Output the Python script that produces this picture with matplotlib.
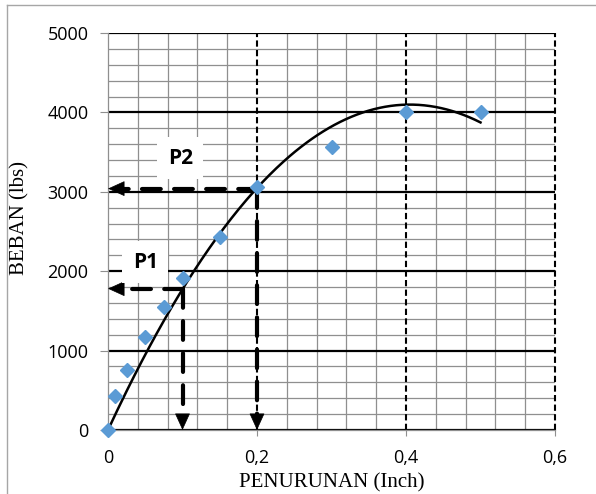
import numpy as np
import matplotlib
matplotlib.use("Agg")
import matplotlib.pyplot as plt
from matplotlib.ticker import MultipleLocator, FixedLocator, FixedFormatter
from matplotlib.lines import Line2D


# measured settlement (inch) and load (lbs)
penurunan = [0, 0.01, 0.025, 0.05, 0.075, 0.1, 0.15, 0.2, 0.3, 0.4, 0.5]
beban = [0, 430, 750, 1170, 1550, 1910, 2430, 3060, 3570, 4010, 4010]

x_ticks = [0, 0.2, 0.4, 0.6]
x_tick_labels = ["0", "0,2", "0,4", "0,6"]
y_ticks = [0, 1000, 2000, 3000, 4000, 5000]

# points for P1 and P2
p_labels = ["P1", "P2"]
p_x = [0.1, 0.2]
p_y = [1780, 3040]
label_x = [0.05, 0.097]
label_y = [2115, 3425]

MARKER_COLOR = "#5B9BD5"
GRID_GRAY = "#8f8f8f"


def dashed_arrow(ax, start, end, head_dx, head_dy):
    """Thick dashed line with a filled head at the end point."""
    ax.plot([start[0], end[0] + head_dx], [start[1], end[1] + head_dy],
            color="black", lw=3, dashes=(4.5, 3.2),
            dash_capstyle="round", zorder=5)
    ax.annotate("", xy=end, xytext=(end[0] + head_dx, end[1] + head_dy),
                arrowprops=dict(arrowstyle="-|>,head_length=1.1,head_width=0.5",
                                color="black", lw=0.5, shrinkA=0, shrinkB=0,
                                mutation_scale=10),
                zorder=6)


def main():
    fig = plt.figure(figsize=(5.96, 4.94), dpi=100)
    ax = fig.add_axes([108 / 596, 1 - 430 / 494, 447 / 596, 397 / 494])

    # outer frame (left and top edges visible)
    fig.add_artist(Line2D([7 / 596, 7 / 596], [0, 1 - 5 / 494],
                          color="#a6a6a6", lw=1))
    fig.add_artist(Line2D([7 / 596, 1], [1 - 5 / 494, 1 - 5 / 494],
                          color="#a6a6a6", lw=1))

    ax.set_xlim(0, 0.6)
    ax.set_ylim(0, 5000)

    ax.xaxis.set_major_locator(FixedLocator(x_ticks))
    ax.xaxis.set_major_formatter(FixedFormatter(x_tick_labels))
    ax.yaxis.set_major_locator(FixedLocator(y_ticks))
    ax.xaxis.set_minor_locator(MultipleLocator(0.04))
    ax.yaxis.set_minor_locator(MultipleLocator(200))

    ax.grid(which="minor", color=GRID_GRAY, lw=0.9, zorder=0)
    ax.grid(which="major", axis="y", color="black", lw=1.6, zorder=1)
    for xv in x_ticks[1:]:
        ax.axvline(xv, color="black", lw=1.5, dashes=(3, 1.6),
                   clip_on=False, zorder=2)
    ax.set_axisbelow(True)

    for side in ["right", "top"]:
        ax.spines[side].set_visible(False)
    for side in ["left", "bottom"]:
        ax.spines[side].set_color(GRID_GRAY)
        ax.spines[side].set_linewidth(0.9)

    ax.tick_params(which="minor", length=0)
    ax.tick_params(axis="x", which="major", length=4, color=GRID_GRAY,
                   labelsize=13, pad=10)
    ax.tick_params(axis="y", which="major", length=6, color=GRID_GRAY,
                   labelsize=13, pad=8)
    for lab in ax.get_xticklabels() + ax.get_yticklabels():
        lab.set_fontfamily("Open Sans")

    # trend line: second order polynomial through the origin
    xs = np.array(penurunan)
    ys = np.array(beban)
    coef, *_ = np.linalg.lstsq(np.column_stack([xs ** 2, xs]), ys, rcond=None)
    xfit = np.linspace(0, max(penurunan), 200)
    ax.plot(xfit, coef[0] * xfit ** 2 + coef[1] * xfit,
            color="black", lw=1.8, zorder=4)

    ax.plot(penurunan, beban, linestyle="none", marker="D", markersize=7.5,
            color=MARKER_COLOR, zorder=7, clip_on=False)

    for px, py in zip(p_x, p_y):
        dashed_arrow(ax, (px, py), (0, py), 0.02, 0)
        dashed_arrow(ax, (px, py), (px, 0), 0, 190)

    for lab, lx, ly in zip(p_labels, label_x, label_y):
        ax.text(lx, ly, lab, fontsize=15, fontweight="bold",
                family="Open Sans", ha="center", va="center", zorder=8,
                bbox=dict(boxstyle="square,pad=0.5", fc="white", ec="none"))

    ax.set_xlabel("PENURUNAN (Inch)", family="Liberation Serif", fontsize=15,
                  ha="center", va="center")
    ax.set_ylabel("BEBAN (lbs)", family="Liberation Serif", fontsize=15,
                  ha="center", va="center")
    ax.xaxis.set_label_coords(0.5, -0.134)
    ax.yaxis.set_label_coords(-0.197, 0.534)

    fig.savefig("out.png", dpi=100)


if __name__ == "__main__":
    main()
